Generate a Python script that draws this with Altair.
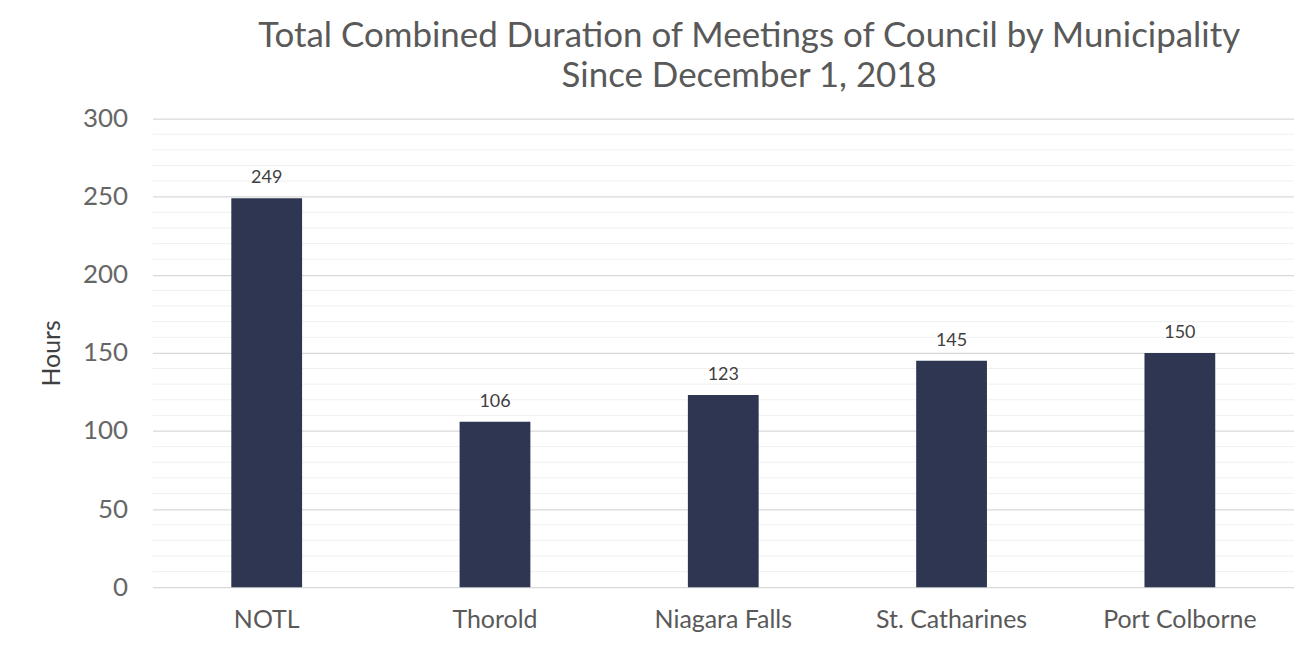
import altair as alt
import pandas as pd

municipalities = ["NOTL", "Thorold", "Niagara Falls", "St. Catharines", "Port Colborne"]
hours = [249, 106, 123, 145, 150]
minor_grid = [10, 20, 30, 40, 60, 70, 80, 90, 110, 120, 130, 140, 160, 170, 180, 190,
              210, 220, 230, 240, 260, 270, 280, 290]
major_ticks = [0, 50, 100, 150, 200, 250, 300]

df = pd.DataFrame({"Municipality": municipalities, "Hours": hours})
grid_df = pd.DataFrame({"v": minor_grid})

FONT = "Lato"
yscale = alt.Scale(domain=[0, 300], nice=False)
yaxis = alt.Axis(values=major_ticks, title="Hours", titleFont=FONT, titleFontSize=25,
                 titleFontWeight="normal", titleColor="#404040", titlePadding=18,
                 labelFont=FONT, labelFontSize=26, labelColor="#666666",
                 labelPadding=25, ticks=False, domain=False,
                 gridColor="#d9d9d9", gridWidth=1.2)

minor = alt.Chart(grid_df).mark_rule(color="#f0f0f0", strokeWidth=1).encode(
    y=alt.Y("v:Q", scale=yscale, axis=yaxis)
)

bars = alt.Chart(df).mark_bar(color="#2e3651", size=71).encode(
    x=alt.X("Municipality:N", sort=municipalities,
            scale=alt.Scale(paddingInner=0.69, paddingOuter=0.345),
            axis=alt.Axis(title=None, labelAngle=0, labelFont=FONT, labelFontSize=25,
                          labelColor="#595959", labelPadding=20, ticks=False, domain=False)),
    y=alt.Y("Hours:Q", scale=yscale, axis=yaxis),
)

labels = alt.Chart(df).mark_text(font=FONT, fontSize=18, color="#404040", dy=-20).encode(
    x=alt.X("Municipality:N", sort=municipalities),
    y=alt.Y("Hours:Q", scale=yscale),
    text=alt.Text("Hours:Q"),
)

chart = alt.layer(minor, bars, labels).properties(
    width=1145,
    height=470,
    autosize=alt.AutoSizeParams(type="none"),
    padding={"left": 145, "top": 110, "right": 0, "bottom": 52},
    title=alt.TitleParams(
        ["Total Combined Duration of Meetings of Council by Municipality",
         "Since December 1, 2018"],
        font=FONT, fontSize=35, fontWeight="normal", color="#595959",
        anchor="middle", dx=26, offset=12, lineHeight=40,
    ),
).configure_view(stroke=None)

chart.save("out.html", embed_options={"renderer": "svg", "actions": False})
